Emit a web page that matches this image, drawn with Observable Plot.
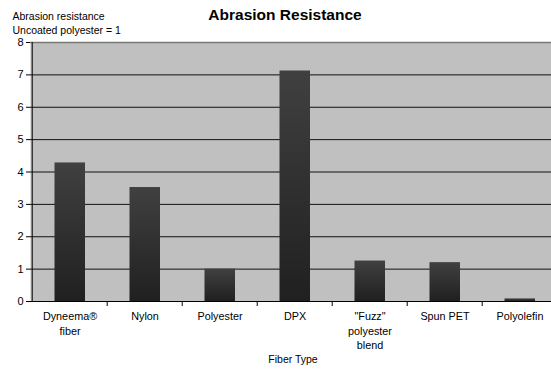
<!DOCTYPE html>
<html>
<head>
<meta charset="utf-8">
<script src="https://cdn.jsdelivr.net/npm/d3@7"></script>
<script src="https://cdn.jsdelivr.net/npm/@observablehq/plot@0.6"></script>
<style>
  html, body { margin: 0; padding: 0; background: #fff; overflow: hidden; width: 551px; height: 371px; }
  #chart { width: 560px; }
  #chart svg { display: block; max-width: none !important; }
</style>
</head>
<body>
<div id="chart"></div>
<script>
const categories = ["Dyneema®\nfiber", "Nylon", "Polyester", "DPX", "\"Fuzz\"\npolyester\nblend", "Spun PET", "Polyolefin"];
const values = [4.28, 3.52, 1.0, 7.12, 1.25, 1.2, 0.08];
const yTicks = [0, 1, 2, 3, 4, 5, 6, 7, 8];
const gridValues = [1, 2, 3, 4, 5, 6, 7];
const titleText = "Abrasion Resistance";
const yLabelText = "Abrasion resistance\nUncoated polyester = 1";
const xLabelText = "Fiber Type";

const data = categories.map((c, i) => ({ category: c, value: values[i] }));

const W = 560, H = 371;
const mL = 30, mR = 1, mT = 42, mB = 70;
const step = (W - mL - mR) / categories.length;
const font = "Liberation Sans, Arial, sans-serif";

const chart = Plot.plot({
  width: W,
  height: H,
  marginLeft: mL,
  marginRight: mR,
  marginTop: mT,
  marginBottom: mB,
  style: { fontFamily: font, fontSize: "11px", color: "#000", background: "transparent", maxWidth: "none" },
  x: { domain: categories, padding: 0, label: null },
  y: { domain: [0, 8], label: null },
  marks: [
    Plot.frame({ fill: "#c0c0c0", stroke: null }),
    Plot.ruleY([8], { stroke: "#777", strokeWidth: 1.5 }),
    Plot.ruleY(gridValues, { stroke: "#111", strokeWidth: 1 }),
    Plot.barY(data, { x: "category", y: "value", fill: "url(#barGrad)", insetLeft: 22.5, insetRight: 22 }),
    Plot.ruleY([0], { stroke: "#000", strokeWidth: 1 }),
    Plot.ruleX([categories[0]], { dx: -step / 2, stroke: "#000", strokeWidth: 1 }),
    Plot.axisY({ ticks: yTicks, tickSize: 4, tickPadding: 3, fontSize: 11, label: null }),
    Plot.axisX({ tickSize: 0, tickPadding: 9, fontSize: 10.8, lineHeight: 1.3, label: null }),
    Plot.axisX({ ticks: categories.slice(1), tickFormat: () => "", tickSize: 5, dx: -step / 2, label: null }),
    Plot.text([titleText], { frameAnchor: "top", dx: -10, dy: -34, text: d => d, fontSize: 15.5, fontWeight: "bold", fill: "#000" }),
    Plot.text([yLabelText], { frameAnchor: "top-left", dx: -18, dy: -32, text: d => d, textAnchor: "start", fontSize: 10.5, lineHeight: 1.3, fill: "#000" }),
    Plot.text([xLabelText], { frameAnchor: "bottom", dx: -2, dy: 61, text: d => d, fontSize: 10.5, fill: "#000" })
  ]
});

const defs = d3.create("svg:defs");
const grad = defs.append("linearGradient").attr("id", "barGrad").attr("x1", 0).attr("y1", 0).attr("x2", 0).attr("y2", 1);
grad.append("stop").attr("offset", "0%").attr("stop-color", "#404040");
grad.append("stop").attr("offset", "100%").attr("stop-color", "#202020");
chart.insertBefore(defs.node(), chart.firstChild);

document.getElementById("chart").appendChild(chart);
</script>
</body>
</html>
